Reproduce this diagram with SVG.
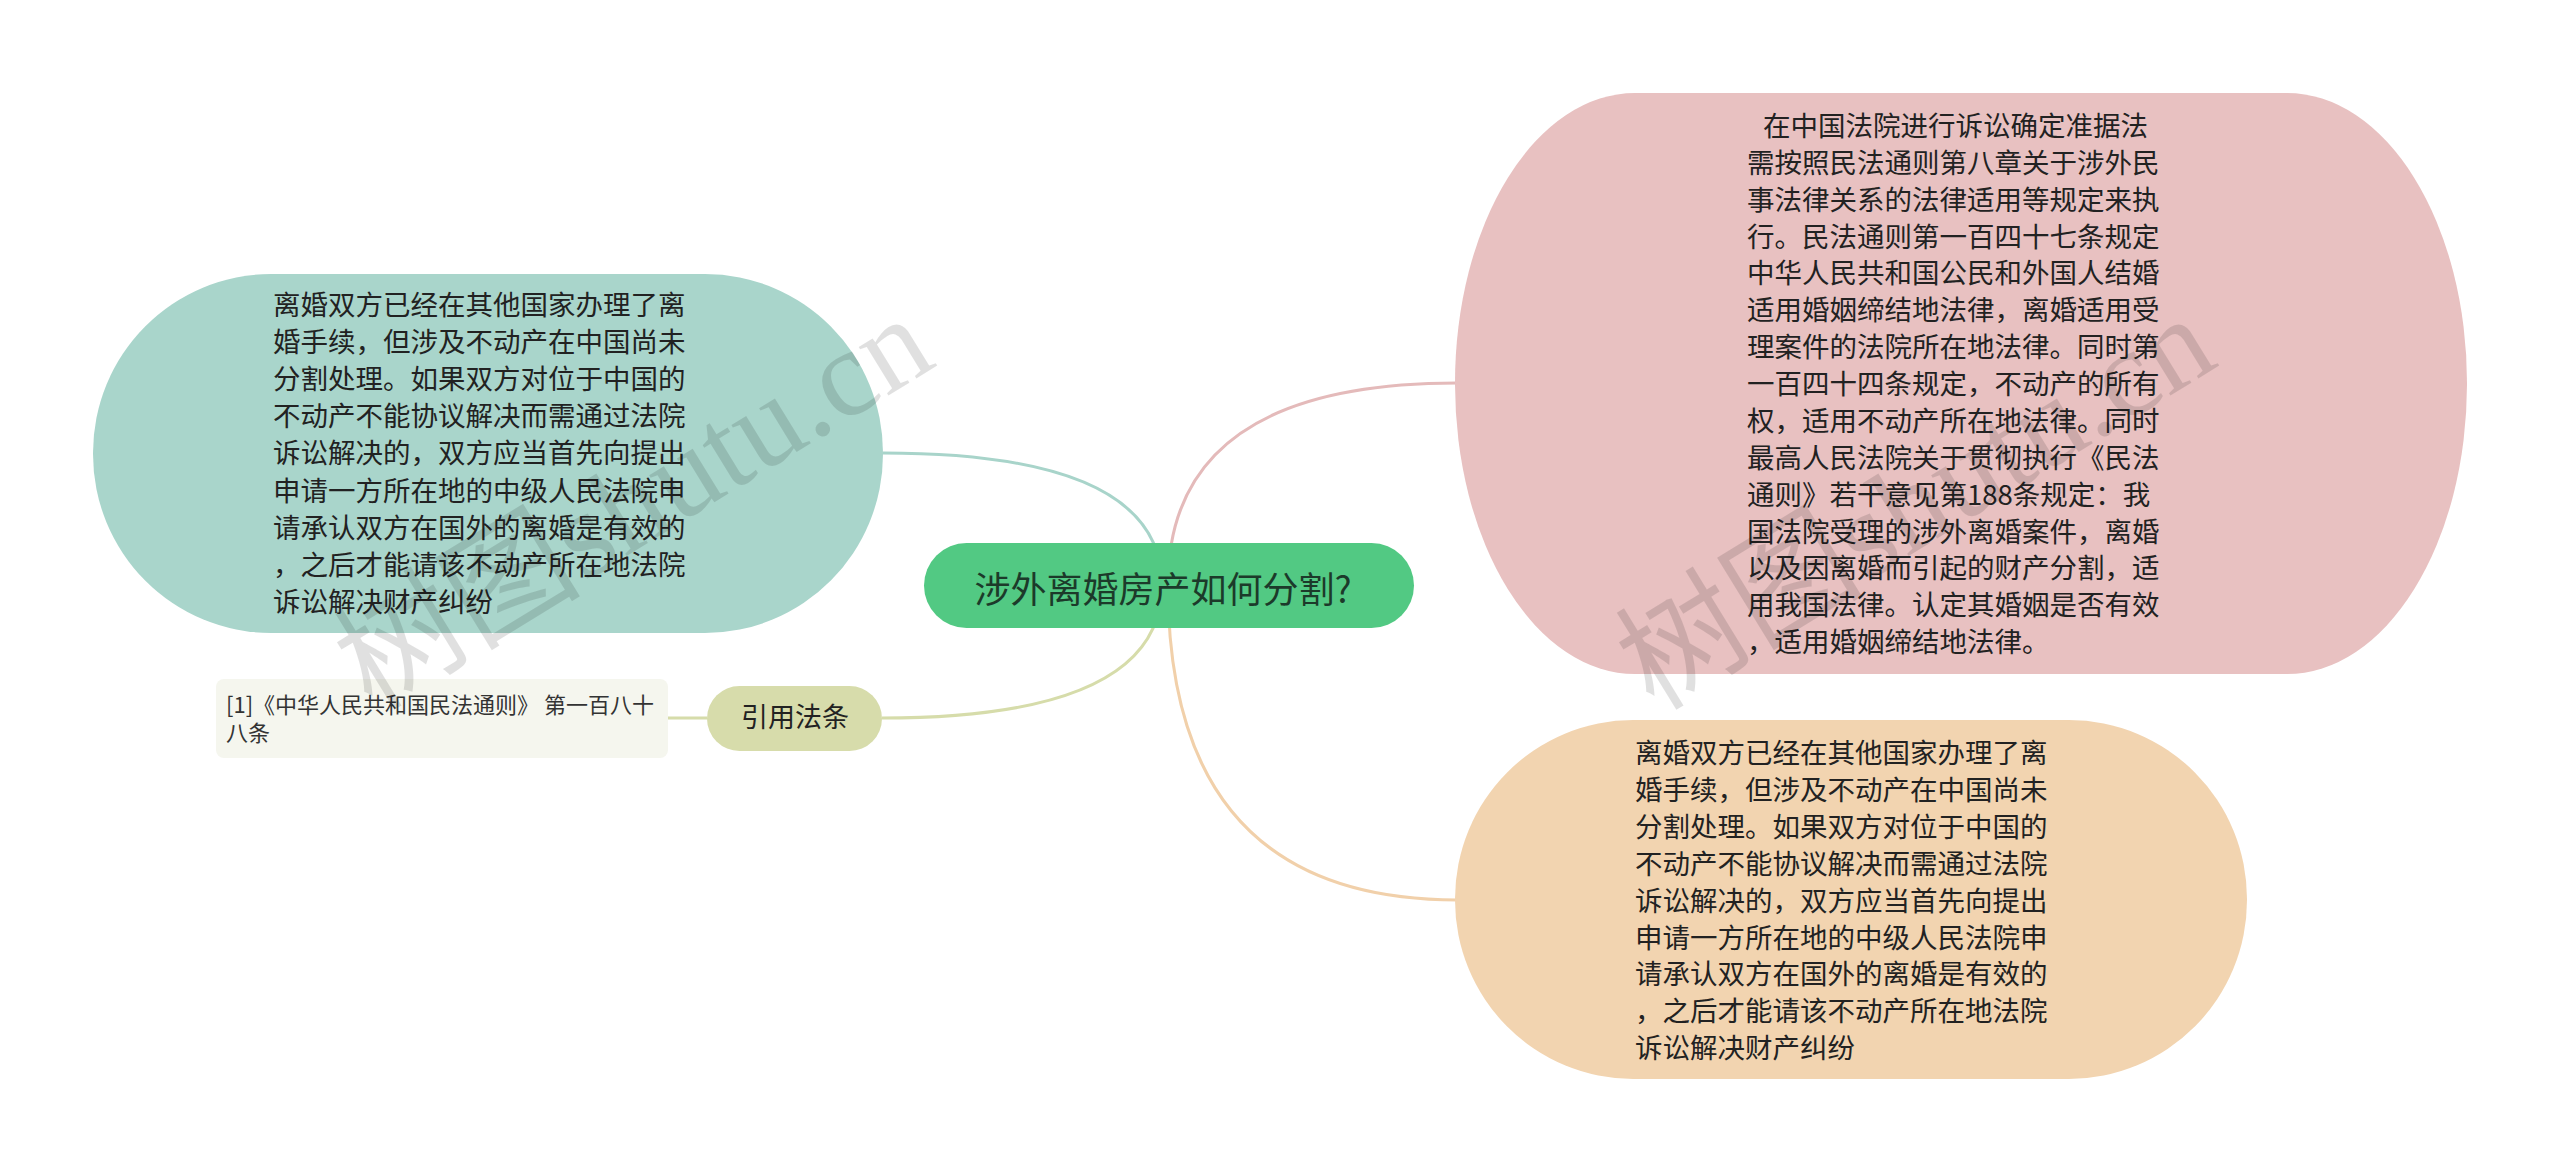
<svg xmlns="http://www.w3.org/2000/svg" width="2560" height="1172" viewBox="0 0 2560 1172">
<style>
.body{font-family:"Noto Sans CJK SC","Noto Sans",sans-serif;font-size:27.5px;fill:#222222}
.conn{fill:none;stroke-width:3}
.wm{font-family:"Liberation Serif","Noto Sans CJK SC",serif;font-size:124px;fill:#000000;fill-opacity:0.12}
</style>
<rect x="0" y="0" width="2560" height="1172" fill="#ffffff"/>
<g id="connectors">
<path class="conn" stroke="#a8d4ca" d="M1162,585 Q1162,453 883,453"/>
<path class="conn" stroke="#e4baba" d="M1168,585 Q1168,383 1457,383"/>
<path class="conn" stroke="#d6dcaa" d="M1162,585 Q1162,718 882,718"/>
<path class="conn" stroke="#f1d0aa" d="M1168,585 Q1168,900 1457,900"/>
<path class="conn" stroke="#d6dcaa" d="M707,718 L668,718"/>
</g>
<g id="node-teal">
<rect x="93" y="274" width="790" height="359" rx="178" ry="179" fill="#a9d5cb"/>
<text class="body">
<tspan x="273" y="315">离婚双方已经在其他国家办理了离</tspan>
<tspan x="273" y="352.1">婚手续，但涉及不动产在中国尚未</tspan>
<tspan x="273" y="389.2">分割处理。如果双方对位于中国的</tspan>
<tspan x="273" y="426.3">不动产不能协议解决而需通过法院</tspan>
<tspan x="273" y="463.4">诉讼解决的，双方应当首先向提出</tspan>
<tspan x="273" y="500.5">申请一方所在地的中级人民法院申</tspan>
<tspan x="273" y="537.6">请承认双方在国外的离婚是有效的</tspan>
<tspan x="273" y="574.7">，之后才能请该不动产所在地法院</tspan>
<tspan x="273" y="611.8">诉讼解决财产纠纷</tspan>
</text>
</g>
<g id="node-center">
<rect x="924" y="543" width="490" height="85" rx="42.5" fill="#52c983"/>
<text x="1163" y="603" text-anchor="middle" style="font-family:'Noto Sans CJK SC','Noto Sans',sans-serif;font-size:36px;fill:#1c3a2a">涉外离婚房产如何分割?</text>
</g>
<g id="node-cite">
<rect x="707" y="686" width="175" height="65" rx="32.5" fill="#d7dcab"/>
<text x="795" y="727" text-anchor="middle" style="font-family:'Noto Sans CJK SC',sans-serif;font-size:27px;fill:#222222">引用法条</text>
</g>
<g id="node-citation">
<rect x="216" y="679" width="452" height="79" rx="8" fill="#f5f6ee"/>
<text style="font-family:'Noto Sans CJK SC',sans-serif;font-size:22px;fill:#333333">
<tspan x="226" y="713">[1]《中华人民共和国民法通则》 第一百八十</tspan>
<tspan x="226" y="741">八条</tspan>
</text>
</g>
<g id="node-pink">
<rect x="1455" y="93" width="1012" height="581" rx="180" ry="290" fill="#e8c1c1"/>
<text class="body">
<tspan x="1763" y="136">在中国法院进行诉讼确定准据法</tspan>
<tspan x="1747" y="172.9">需按照民法通则第八章关于涉外民</tspan>
<tspan x="1747" y="209.7">事法律关系的法律适用等规定来执</tspan>
<tspan x="1747" y="246.6">行。民法通则第一百四十七条规定</tspan>
<tspan x="1747" y="283.4">中华人民共和国公民和外国人结婚</tspan>
<tspan x="1747" y="320.3">适用婚姻缔结地法律，离婚适用受</tspan>
<tspan x="1747" y="357.2">理案件的法院所在地法律。同时第</tspan>
<tspan x="1747" y="394">一百四十四条规定，不动产的所有</tspan>
<tspan x="1747" y="430.9">权，适用不动产所在地法律。同时</tspan>
<tspan x="1747" y="467.7">最高人民法院关于贯彻执行《民法</tspan>
<tspan x="1747" y="504.6">通则》若干意见第188条规定：我</tspan>
<tspan x="1747" y="541.5">国法院受理的涉外离婚案件，离婚</tspan>
<tspan x="1747" y="578.3">以及因离婚而引起的财产分割，适</tspan>
<tspan x="1747" y="615.2">用我国法律。认定其婚姻是否有效</tspan>
<tspan x="1747" y="652">，适用婚姻缔结地法律。</tspan>
</text>
</g>
<g id="node-orange">
<rect x="1455" y="720" width="792" height="359" rx="178" ry="179" fill="#f2d4b0"/>
<text class="body">
<tspan x="1635" y="763">离婚双方已经在其他国家办理了离</tspan>
<tspan x="1635" y="799.9">婚手续，但涉及不动产在中国尚未</tspan>
<tspan x="1635" y="836.8">分割处理。如果双方对位于中国的</tspan>
<tspan x="1635" y="873.7">不动产不能协议解决而需通过法院</tspan>
<tspan x="1635" y="910.6">诉讼解决的，双方应当首先向提出</tspan>
<tspan x="1635" y="947.5">申请一方所在地的中级人民法院申</tspan>
<tspan x="1635" y="984.4">请承认双方在国外的离婚是有效的</tspan>
<tspan x="1635" y="1021.3">，之后才能请该不动产所在地法院</tspan>
<tspan x="1635" y="1058.2">诉讼解决财产纠纷</tspan>
</text>
</g>
<g id="watermarks">
<text class="wm" transform="translate(372,712) rotate(-31.5)">树图shutu.cn</text>
<text class="wm" transform="translate(1654,712) rotate(-31.5)">树图shutu.cn</text>
</g>
</svg>
